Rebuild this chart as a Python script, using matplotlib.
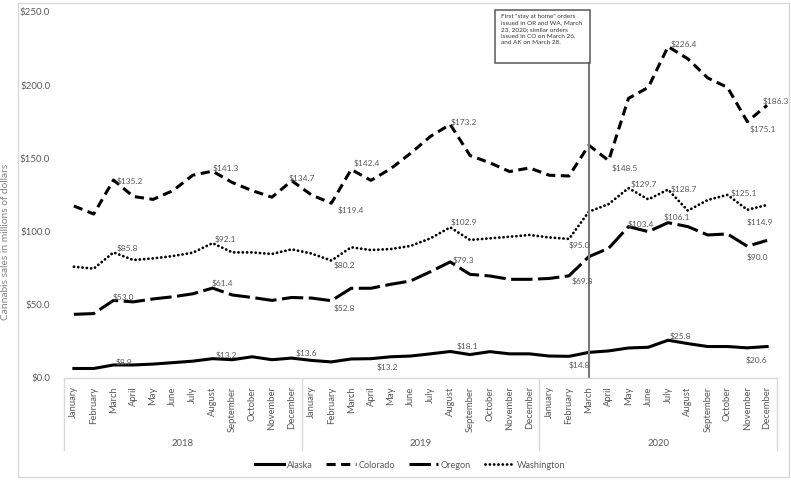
import matplotlib
matplotlib.use("Agg")
import matplotlib.pyplot as plt
from matplotlib.patches import Rectangle
from matplotlib.transforms import blended_transform_factory
import numpy as np

plt.rcParams['font.family'] = ['Lato', 'DejaVu Sans']

months = ["January", "February", "March", "April", "May", "June", "July",
          "August", "September", "October", "November", "December"]
years = ["2018", "2019", "2020"]

alaska = [6.5, 6.5, 8.9, 8.9, 9.5, 10.5, 11.5, 13.2, 12.5, 14.5, 12.5, 13.6,
          12.0, 11.0, 13.0, 13.2, 14.5, 15.0, 16.5, 18.1, 16.0, 18.0, 16.5, 16.5,
          15.0, 14.8, 17.5, 18.5, 20.5, 21.0, 25.8, 23.5, 21.5, 21.5, 20.6, 21.5]
colorado = [117.5, 112.0, 135.2, 124.0, 122.0, 128.0, 138.5, 141.3, 133.5, 128.0, 123.5, 134.7,
            125.0, 119.4, 142.4, 135.0, 143.0, 153.5, 165.0, 173.2, 152.0, 147.0, 141.0, 143.5,
            138.5, 138.0, 159.0, 148.5, 191.0, 198.5, 226.4, 218.0, 205.0, 198.5, 175.1, 186.3]
oregon = [43.5, 44.0, 53.0, 52.0, 54.0, 55.5, 57.5, 61.4, 56.7, 55.0, 53.0, 55.0,
          54.6, 52.8, 61.3, 61.3, 64.0, 66.3, 72.6, 79.3, 70.8, 69.7, 67.4, 67.4,
          68.0, 69.8, 82.9, 88.6, 103.4, 100.0, 106.1, 103.4, 97.7, 98.4, 90.0, 94.0]
washington = [76.0, 74.7, 85.8, 80.6, 81.7, 83.3, 85.6, 92.1, 85.8, 85.8, 84.7, 87.9,
              85.0, 80.2, 89.3, 87.4, 88.1, 90.2, 95.4, 102.9, 94.3, 95.4, 96.5, 97.7,
              96.0, 95.0, 113.6, 118.8, 129.7, 122.0, 128.7, 114.3, 121.6, 125.1, 114.9, 118.2]

# which points get a value label, and where the label sits (pixel offsets)
labels = {
    "Alaska": [(2, 10, 3), (7, 14, 3), (11, 15, 5), (15, 16, -9), (19, 17, 5),
               (25, 10, -9), (30, 12, 4), (34, 9, -12)],
    "Colorado": [(2, 16, -1), (7, 13, 3), (11, 10, 3), (13, 19, -7), (14, 16, 6),
                 (19, 14, 2), (27, 16, -8), (30, 16, 2), (34, 16, -8), (35, 9, 4)],
    "Oregon": [(2, 10, 3), (7, 10, 5), (13, 13, -8), (19, 13, 2), (25, 13, -5),
               (28, 12, 2), (30, 9, 5), (34, 10, -11)],
    "Washington": [(2, 14, 4), (7, 13, 4), (13, 13, -5), (19, 14, 5), (25, 10, -6),
                   (28, 15, 4), (30, 16, 0), (33, 16, 2), (34, 13, -12)],
}

note = ('First "stay at home" orders\nissued in OR and WA, March\n'
        '23, 2020; similar orders\nissued in CO on March 26,\nand AK on March 28.')
event_index = 24 + months.index("March")

grey = "#595959"
light = "#d9d9d9"

fig = plt.figure(figsize=(7.91, 4.8), dpi=100)
ax = fig.add_axes([64 / 791, 1 - 378 / 480, (777 - 64) / 791, 366 / 480])

x = np.arange(len(alaska))
series = [
    ("Alaska", alaska, dict(linestyle="-")),
    ("Colorado", colorado, dict(dashes=(3, 1.8))),
    ("Oregon", oregon, dict(dashes=(7, 1.8))),
    ("Washington", washington, dict(dashes=(0.05, 1.5), dash_capstyle="round", lw=2.0)),
]
lines = []
for name, vals, style in series:
    kw = dict(color="black", lw=2.2, solid_joinstyle="round")
    kw.update(style)
    ln, = ax.plot(x, vals, label=name, **kw)
    lines.append(ln)
    for i, dx, dy in labels[name]:
        ax.annotate("${:.1f}".format(vals[i]), (i, vals[i]), xytext=(dx, dy),
                    textcoords="offset pixels", ha="center", va="center",
                    fontsize=6.0, color=grey)

ax.set_xlim(-0.5, len(alaska) - 0.5)
ax.set_ylim(0, 250)
ax.set_yticks(np.arange(0, 251, 50))
ax.set_yticklabels(["${:.1f}".format(v) for v in np.arange(0, 251, 50)])
ax.tick_params(axis="y", length=0, pad=10, labelsize=7, labelcolor=grey)
ax.set_xticks(x)
ax.set_xticklabels(months * 3, rotation=90, va="top", ha="center")
ax.tick_params(axis="x", length=0, pad=6, labelsize=6.8, labelcolor=grey)
for s in ["top", "right", "left"]:
    ax.spines[s].set_visible(False)
ax.spines["bottom"].set_color(light)
ax.spines["bottom"].set_linewidth(1)

# year groups under the month labels
tr = blended_transform_factory(ax.transData, ax.transAxes)
for k, yr in enumerate(years):
    ax.text(k * 12 + 5.5, -0.18, yr, transform=tr, ha="center", va="center",
            fontsize=6.8, color=grey)
for b in range(len(years) + 1):
    ax.plot([b * 12 - 0.5] * 2, [0, -0.197], transform=tr, color=light,
            lw=1, clip_on=False)

# stay-at-home marker line and note
box_bottom = 1 - 62.7 / 480
ax_top = 1 - 12 / 480
ax_bot = 1 - 378 / 480
ax.axvline(event_index, ymin=0, ymax=(box_bottom - ax_bot) / (ax_top - ax_bot),
           color="#7a7a7a", lw=1.5)
fig.patches.append(Rectangle((495 / 791, box_bottom), (590 - 495) / 791, (62.7 - 10) / 480,
                             transform=fig.transFigure, fill=False, edgecolor=grey, lw=1.1))
fig.text(501 / 791, 1 - 14 / 480, note, ha="left", va="top", fontsize=4.6,
         color="#333333", linespacing=1.35)

ax.set_ylabel("")
fig.text(6 / 791, 1 - 242 / 480, "Cannabis sales in millions of dollars", rotation=90,
         ha="center", va="center", fontsize=7.3, color="#808080")

fig.legend(handles=lines, loc="center", bbox_to_anchor=(410 / 791, 1 - 465 / 480),
           ncol=4, frameon=False, fontsize=6.6, handlelength=3.2, columnspacing=1.5,
           handletextpad=0.3, labelcolor=grey)

fig.patches.append(Rectangle((18 / 791, 3 / 480), (789 - 18) / 791, (477 - 3) / 480,
                             transform=fig.transFigure, fill=False, edgecolor=light, lw=1))

fig.savefig("out.png", dpi=100)
